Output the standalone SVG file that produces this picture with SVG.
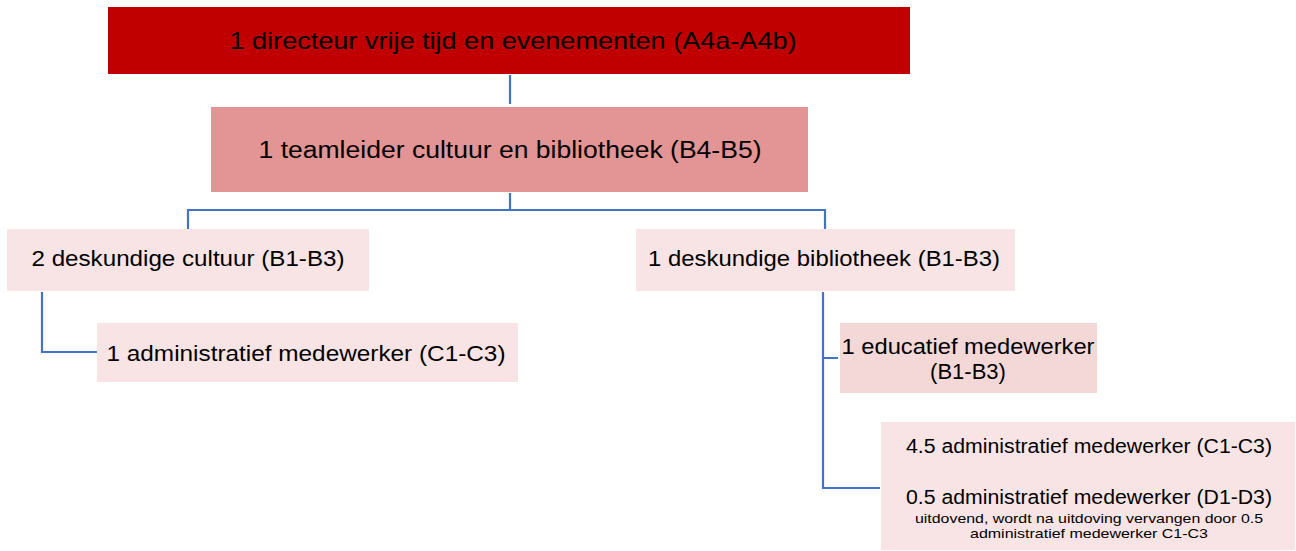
<svg xmlns="http://www.w3.org/2000/svg" width="1296" height="551" viewBox="0 0 1296 551">
<style>
text{font-family:"Liberation Sans",Arial,sans-serif;fill:#000;text-anchor:middle}
.c{fill:none;stroke:#4472C4;stroke-width:2.2}
.lt{fill:#F8E4E4}
</style>
<rect width="1296" height="551" fill="#fff"/>
<g id="connectors">
<path class="c" d="M510 75V104"/>
<path class="c" d="M510 193V210M188 229V210H825V229"/>
<path class="c" d="M42 292V352H97"/>
<path class="c" d="M823 292V488H880M823 358H838"/>
</g>
<g id="n1">
<rect x="108" y="7" width="802" height="67" fill="#C00000"/>
<text x="513" y="49" font-size="24" textLength="567" lengthAdjust="spacingAndGlyphs">1 directeur vrije tijd en evenementen (A4a-A4b)</text>
</g>
<g id="n2">
<rect x="211" y="107" width="597" height="85" fill="#E39494"/>
<text x="510" y="158" font-size="23" textLength="503" lengthAdjust="spacingAndGlyphs">1 teamleider cultuur en bibliotheek (B4-B5)</text>
</g>
<g id="n3">
<rect class="lt" x="7" y="229" width="362" height="62"/>
<text x="188" y="266" font-size="22" textLength="313" lengthAdjust="spacingAndGlyphs">2 deskundige cultuur (B1-B3)</text>
</g>
<g id="n4">
<rect class="lt" x="636" y="229" width="379" height="62"/>
<text x="824" y="266" font-size="22" textLength="352" lengthAdjust="spacingAndGlyphs">1 deskundige bibliotheek (B1-B3)</text>
</g>
<g id="n5">
<rect class="lt" x="97" y="323" width="421" height="59"/>
<text x="306" y="361" font-size="22" textLength="399" lengthAdjust="spacingAndGlyphs">1 administratief medewerker (C1-C3)</text>
</g>
<g id="n6">
<rect x="840" y="323" width="257" height="70" fill="#F4D7D7"/>
<text x="968" y="354" font-size="22" textLength="253" lengthAdjust="spacingAndGlyphs">1 educatief medewerker</text>
<text x="968" y="379" font-size="22">(B1-B3)</text>
</g>
<g id="n7">
<rect class="lt" x="881" y="422" width="414" height="128"/>
<text x="1089" y="453" font-size="20" textLength="366" lengthAdjust="spacingAndGlyphs">4.5 administratief medewerker (C1-C3)</text>
<text x="1089" y="504" font-size="20" textLength="366" lengthAdjust="spacingAndGlyphs">0.5 administratief medewerker (D1-D3)</text>
<text x="1089" y="523" font-size="13" textLength="348" lengthAdjust="spacingAndGlyphs">uitdovend, wordt na uitdoving vervangen door 0.5</text>
<text x="1089" y="538" font-size="13" textLength="238" lengthAdjust="spacingAndGlyphs">administratief medewerker C1-C3</text>
</g>
</svg>
